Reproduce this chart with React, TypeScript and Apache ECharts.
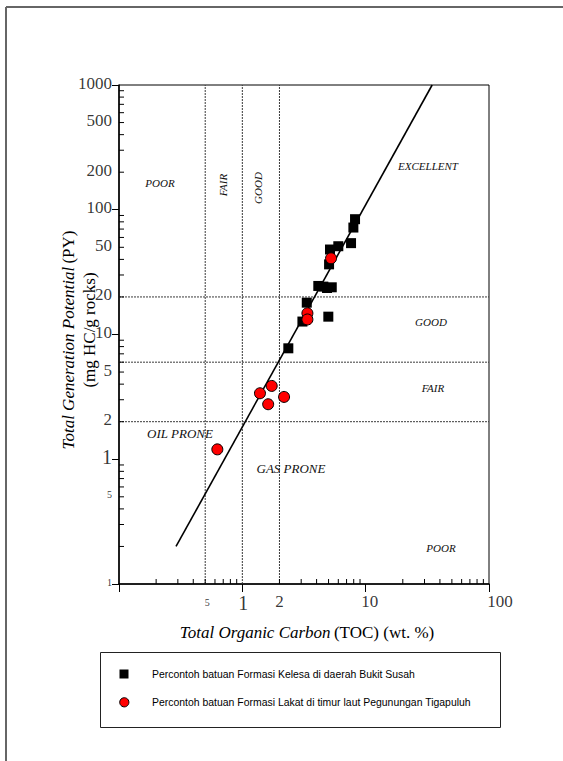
import React, { useEffect, useRef } from "react";
import * as echarts from "echarts";

// ---- data ----
const tocBounds = [0.5, 1, 2];
const pyBounds = [2, 6, 20];

const kelesaTOC = [8.2, 7.95, 7.61, 6.0, 5.14, 5.05, 4.13, 4.54, 4.86, 5.31, 3.33, 3.07, 4.98, 2.36];
const kelesaPY = [84, 72, 54, 51, 48, 36.5, 24.5, 24.2, 23.6, 23.9, 18, 12.7, 13.9, 7.75];

const lakatTOC = [5.24, 3.37, 3.37, 1.39, 1.73, 1.62, 2.18, 0.627];
const lakatPY = [40.8, 14.8, 13.2, 3.38, 3.87, 2.76, 3.16, 1.2];

const trendTOC = [0.29, 34.6];
const trendPY = [0.2, 1000];

const yTickValues = [1000, 500, 200, 100, 50, 20, 10, 5, 2, 1, 0.5, 0.1];
const yTickLabels = ["1000", "500", "200", "100", "50", "20", "10", "5", "2", "1", "5", "1"];
const xTickValues = [0.5, 1, 2, 10, 100];
const xTickLabels = ["5", "1", "2", "10", "100"];

const yMinorTicks = [0.2, 0.3, 0.4, 0.5, 0.6, 0.7, 0.8, 0.9, 2, 3, 4, 5, 6, 7, 8, 9, 20, 30, 40, 50, 60, 70, 80, 90, 200, 300, 400, 500, 600, 700, 800, 900];
const xMinorTicks = [0.2, 0.3, 0.4, 0.5, 0.6, 0.7, 0.8, 0.9, 2, 3, 4, 5, 6, 7, 8, 9, 20, 30, 40, 50, 60, 70, 80, 90];

const seriesNames = [
  "Percontoh batuan Formasi Kelesa di daerah Bukit Susah",
  "Percontoh batuan Formasi Lakat di timur laut Pegunungan Tigapuluh",
];

const SERIF = "Liberation Serif";
const SANS = "Liberation Sans";

export default function App() {
  const ref = useRef<HTMLDivElement>(null);

  useEffect(() => {
    if (!ref.current) return;
    const chart = echarts.init(ref.current, null, { renderer: "svg" });

    const X_MIN = 0.1, X_MAX = 100, Y_MIN = 0.1, Y_MAX = 1000;
    const boundaryStyle = { color: "#3a3a3a", width: 1, type: [2, 1] as any };

    const series: any[] = [];
    tocBounds.forEach((v) => {
      series.push({
        type: "line", silent: true, symbol: "none", clip: false,
        data: [[v, Y_MIN], [v, Y_MAX]], lineStyle: boundaryStyle, z: 1,
      });
    });
    pyBounds.forEach((v) => {
      series.push({
        type: "line", silent: true, symbol: "none", clip: false,
        data: [[X_MIN, v], [X_MAX, v]], lineStyle: boundaryStyle, z: 1,
      });
    });
    series.push({
      type: "line", silent: true, symbol: "none",
      data: trendTOC.map((t, i) => [t, trendPY[i]]),
      lineStyle: { color: "#000", width: 1.6 }, z: 2,
    });
    // minor ticks
    series.push({
      type: "scatter", silent: true, clip: false,
      data: yMinorTicks.map((v) => [X_MIN, v]),
      symbol: "rect", symbolSize: [5, 1], symbolOffset: [2.5, 0],
      itemStyle: { color: "#000", opacity: 1 }, z: 3,
    });
    series.push({
      type: "scatter", silent: true, clip: false,
      data: xMinorTicks.map((v) => [v, Y_MIN]),
      symbol: "rect", symbolSize: [1, 5], symbolOffset: [0, -2.5],
      itemStyle: { color: "#000", opacity: 1 }, z: 3,
    });
    // tick labels
    series.push({
      type: "scatter", silent: true, clip: false, symbolSize: 0,
      data: yTickValues.map((v) => [X_MIN, v]),
      label: {
        show: true, position: "left", distance: 7, offset: [0, -2],
        color: "#000", fontFamily: SERIF,
        formatter: (p: any) => {
          const v = yTickValues[p.dataIndex];
          const t = yTickLabels[p.dataIndex];
          if (v < 1) return "{s|" + t + "}";
          if (v === 1) return "{b|" + t + "}";
          return "{n|" + t + "}";
        },
        rich: {
          n: { fontSize: 17, fontFamily: SERIF, color: "#000" },
          b: { fontSize: 20, fontFamily: SERIF, color: "#000" },
          s: { fontSize: 10, fontFamily: SERIF, color: "#000" },
        },
      },
      z: 4,
    });
    series.push({
      type: "scatter", silent: true, clip: false, symbolSize: 0,
      data: xTickValues.map((v) => [v, Y_MIN]),
      label: {
        show: true, position: "bottom", distance: 9,
        color: "#000", fontFamily: SERIF,
        formatter: (p: any) => {
          const v = xTickValues[p.dataIndex];
          const t = xTickLabels[p.dataIndex];
          if (v < 1) return "{s|" + t + "}";
          if (v === 1) return "{b|" + t + "}";
          if (v === 100) return "{r|" + t + "}";
          if (v === 10) return "{t|" + t + "}";
          return "{n|" + t + "}";
        },
        rich: {
          n: { fontSize: 17, fontFamily: SERIF, color: "#000" },
          t: { fontSize: 17, fontFamily: SERIF, color: "#000", padding: [0, 0, 0, 8] },
          r: { fontSize: 17, fontFamily: SERIF, color: "#000", padding: [0, 0, 0, 22] },
          b: { fontSize: 20, fontFamily: SERIF, color: "#000", padding: [0, 0, 0, 2] },
          s: { fontSize: 10, fontFamily: SERIF, color: "#000", padding: [4, 0, 0, 4] },
        },
      },
      z: 4,
    });
    // data series
    series.push({
      name: seriesNames[0], type: "scatter",
      data: kelesaTOC.map((t, i) => [t, kelesaPY[i]]),
      symbol: "rect", symbolSize: 10,
      itemStyle: { color: "#000", opacity: 1 }, z: 5,
    });
    series.push({
      name: seriesNames[1], type: "scatter",
      data: lakatTOC.map((t, i) => [t, lakatPY[i]]),
      symbol: "circle", symbolSize: 11,
      itemStyle: { color: "#ff0000", borderColor: "#000", borderWidth: 1, opacity: 1 }, z: 6,
    });

    const italicLabel = (text: string, x: number, y: number, size = 11, rotation = 0) => ({
      type: "text", x, y, rotation,
      style: {
        text, fontFamily: SERIF, fontStyle: "italic", fontSize: size,
        fill: "#111", align: "center", verticalAlign: "middle",
      },
      z: 10,
    });

    const legendText = (text: string, y: number) => ({
      type: "text", x: 152, y, scaleX: 0.95, scaleY: 1,
      style: {
        text, fontFamily: SANS, fontSize: 11, fill: "#000",
        align: "left", verticalAlign: "middle",
      },
    });

    const option: any = {
      animation: false,
      grid: {
        left: 119, top: 85, width: 370, height: 499,
        show: true, borderColor: "#000", borderWidth: 1, backgroundColor: "transparent",
      },
      xAxis: {
        type: "log", logBase: 10, min: X_MIN, max: X_MAX,
        axisLine: { show: true, lineStyle: { color: "#000", width: 1.5 } },
        axisTick: { show: true, inside: false, length: 8, lineStyle: { color: "#000", width: 1 } },
        axisLabel: { show: false }, splitLine: { show: false }, minorTick: { show: false },
      },
      yAxis: {
        type: "log", logBase: 10, min: Y_MIN, max: Y_MAX,
        axisLine: { show: true, lineStyle: { color: "#000", width: 1.5 } },
        axisTick: { show: true, inside: false, length: 7, lineStyle: { color: "#000", width: 1 } },
        axisLabel: { show: false }, splitLine: { show: false }, minorTick: { show: false },
      },
      graphic: [
        { type: "line", shape: { x1: 6, y1: 7, x2: 563, y2: 7 }, style: { stroke: "#333", lineWidth: 1.5 } },
        { type: "line", shape: { x1: 6, y1: 7, x2: 6, y2: 761 }, style: { stroke: "#666", lineWidth: 2 } },
        {
          type: "rect", shape: { x: 100.5, y: 652.5, width: 400, height: 75 },
          style: { fill: "none", stroke: "#222", lineWidth: 1 }, z: 0,
        },
        { type: "rect", shape: { x: 119.5, y: 669.5, width: 9, height: 9 }, style: { fill: "#000" } },
        { type: "circle", shape: { cx: 124.3, cy: 702.3, r: 4.6 }, style: { fill: "#ff0000", stroke: "#000", lineWidth: 1 } },
        legendText(seriesNames[0], 674),
        legendText(seriesNames[1], 702),
        {
          type: "text", x: 68, y: 340, rotation: Math.PI / 2,
          style: {
            text: "{i|Total Generation Potential} {n|(PY)}",
            align: "center", verticalAlign: "middle",
            rich: {
              i: { fontFamily: SERIF, fontStyle: "italic", fontSize: 17, fill: "#000" },
              n: { fontFamily: SERIF, fontSize: 17, fill: "#000" },
            },
          },
        },
        {
          type: "text", x: 89, y: 330, rotation: Math.PI / 2,
          style: {
            text: "(mg HC/g rocks)", fontFamily: SERIF, fontSize: 17, fill: "#000",
            align: "center", verticalAlign: "middle",
          },
        },
        {
          type: "text", x: 307, y: 632,
          style: {
            text: "{i|Total Organic Carbon} {n|(TOC) (wt. %)}",
            align: "center", verticalAlign: "middle",
            rich: {
              i: { fontFamily: SERIF, fontStyle: "italic", fontSize: 17, fill: "#000" },
              n: { fontFamily: SERIF, fontSize: 17, fill: "#000" },
            },
          },
        },
        italicLabel("POOR", 160, 183),
        italicLabel("FAIR", 223, 185, 11, Math.PI / 2),
        italicLabel("GOOD", 258, 188, 11, Math.PI / 2),
        italicLabel("EXCELLENT", 428, 166),
        italicLabel("GOOD", 431, 322),
        italicLabel("FAIR", 433, 388),
        italicLabel("POOR", 441, 548),
        italicLabel("OIL PRONE", 180, 433, 13),
        italicLabel("GAS PRONE", 291, 468, 13),
      ],
      series,
    };

    chart.setOption(option);
    return () => chart.dispose();
  }, []);

  return (
    <div
      ref={ref}
      style={{ position: "absolute", left: 0, top: 0, width: 563, height: 761, background: "#fff" }}
    />
  );
}
